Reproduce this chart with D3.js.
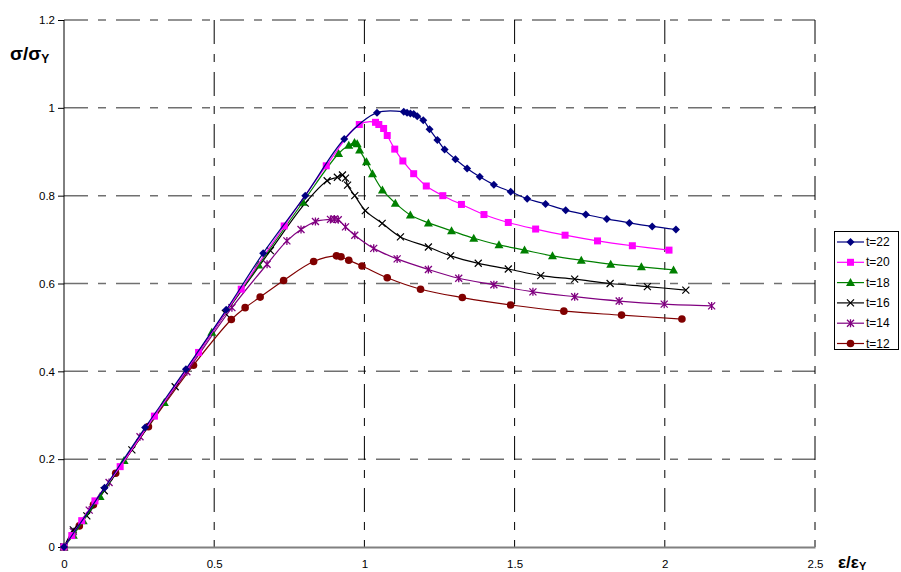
<!DOCTYPE html>
<html><head><meta charset="utf-8">
<script src="https://cdn.jsdelivr.net/npm/d3@7"></script>
<style>body{margin:0;background:#fff;} svg{display:block;font-family:"Liberation Sans",Arial,sans-serif;}</style>
</head><body><svg id="c" width="901" height="572"></svg>
<script>
const xTicks = [0, 0.5, 1, 1.5, 2, 2.5];
const yTicks = [0, 0.2, 0.4, 0.6, 0.8, 1, 1.2];
const seriesNames = ["t=22", "t=20", "t=18", "t=16", "t=14", "t=12"];
const seriesColors = ["#000080", "#FF00FF", "#008000", "#000000", "#800080", "#800000"];
const seriesMarkers = ["diamond", "square", "triangle", "x", "asterisk", "circle"];

const t22x = [0,0.135,0.27,0.406,0.54,0.663,0.803,0.933,1.042,1.131,1.142,1.153,1.164,1.176,1.196,1.217,1.243,1.267,1.303,1.342,1.384,1.431,1.487,1.542,1.603,1.67,1.737,1.807,1.882,1.958,2.037];
const t22y = [0,0.135,0.272,0.405,0.54,0.669,0.80,0.929,0.989,0.991,0.989,0.987,0.986,0.981,0.972,0.951,0.927,0.905,0.883,0.862,0.843,0.825,0.809,0.793,0.781,0.767,0.757,0.747,0.738,0.730,0.723];
const t20x = [0,0.026,0.059,0.103,0.187,0.301,0.448,0.59,0.733,0.873,0.983,1.037,1.048,1.064,1.076,1.101,1.128,1.164,1.206,1.261,1.323,1.398,1.479,1.57,1.668,1.776,1.892,2.014];
const t20y = [0,0.026,0.06,0.105,0.183,0.298,0.443,0.587,0.731,0.868,0.962,0.967,0.962,0.953,0.937,0.906,0.879,0.850,0.822,0.800,0.780,0.757,0.739,0.724,0.710,0.697,0.686,0.676];
const t18x = [0,0.031,0.064,0.12,0.2,0.334,0.492,0.648,0.795,0.914,0.948,0.967,0.976,0.984,1.007,1.027,1.06,1.103,1.153,1.213,1.29,1.364,1.448,1.533,1.626,1.722,1.82,1.922,2.029];
const t18y = [0,0.027,0.06,0.115,0.197,0.329,0.489,0.642,0.785,0.896,0.915,0.921,0.918,0.904,0.877,0.85,0.813,0.783,0.756,0.738,0.72,0.703,0.688,0.676,0.663,0.653,0.644,0.638,0.631];
const t16x = [0,0.031,0.076,0.134,0.226,0.37,0.537,0.687,0.803,0.876,0.91,0.927,0.937,0.944,0.968,1.003,1.059,1.12,1.213,1.287,1.379,1.479,1.587,1.70,1.818,1.942,2.07];
const t16y = [0,0.039,0.071,0.128,0.221,0.365,0.532,0.675,0.783,0.834,0.842,0.847,0.840,0.824,0.80,0.766,0.737,0.706,0.683,0.663,0.646,0.633,0.618,0.61,0.60,0.593,0.585];
const t14x = [0,0.031,0.084,0.15,0.253,0.409,0.559,0.676,0.742,0.789,0.837,0.887,0.9,0.913,0.937,0.968,1.031,1.109,1.213,1.314,1.431,1.561,1.70,1.848,1.998,2.156];
const t14y = [0,0.035,0.084,0.147,0.251,0.399,0.545,0.644,0.697,0.723,0.741,0.746,0.747,0.745,0.729,0.71,0.68,0.656,0.632,0.612,0.597,0.581,0.57,0.56,0.553,0.549];
const t12x = [0,0.051,0.098,0.172,0.281,0.431,0.557,0.603,0.653,0.731,0.831,0.907,0.922,0.948,0.992,1.076,1.187,1.326,1.487,1.664,1.856,2.057];
const t12y = [0,0.048,0.096,0.168,0.274,0.414,0.518,0.545,0.569,0.607,0.65,0.663,0.661,0.653,0.64,0.613,0.587,0.568,0.551,0.537,0.528,0.519];

const allX = [t22x, t20x, t18x, t16x, t14x, t12x];
const allY = [t22y, t20y, t18y, t16y, t14y, t12y];

const svg = d3.select("#c");
const pLeft = 64, pRight = 815, pTop = 20, pBottom = 547;
const x = d3.scaleLinear().domain([0, 2.5]).range([pLeft, pRight]);
const y = d3.scaleLinear().domain([0, 1.2]).range([pBottom, pTop]);

// grid
svg.append("g").selectAll("line").data(yTicks.filter(d => d > 0)).join("line")
  .attr("x1", pLeft).attr("x2", pRight).attr("y1", d => y(d)).attr("y2", d => y(d))
  .attr("stroke", "#707070").attr("stroke-width", 1.5).attr("stroke-dasharray", "24,10,8,10");
svg.append("g").selectAll("line").data(xTicks.filter(d => d > 0)).join("line")
  .attr("x1", d => x(d)).attr("x2", d => x(d)).attr("y1", pTop).attr("y2", pBottom)
  .attr("stroke", "#000").attr("stroke-width", 1).attr("stroke-dasharray", "24,10,8,10");

// axes
const yAxis = d3.axisLeft(y).tickValues(yTicks).tickSize(6).tickFormat(d => d === 0 ? "0" : d3.format("")(d));
const gy = svg.append("g").attr("transform", `translate(${pLeft},0)`).call(yAxis);
gy.select(".domain").attr("stroke", "#000").attr("d", `M0,${pTop}V${pBottom}`);
gy.selectAll(".tick line").attr("stroke", "#000");
gy.selectAll("text").attr("font-size", 11.5).attr("fill", "#000").attr("x", -9)
  .attr("font-family", "'Liberation Sans',Arial,sans-serif");

const xAxis = d3.axisBottom(x).tickValues(xTicks).tickSize(0).tickFormat(d => String(d));
const gx = svg.append("g").attr("transform", `translate(0,${pBottom})`).call(xAxis);
gx.select(".domain").attr("stroke", "#808080").attr("stroke-width", 2);
gx.selectAll("text").attr("font-size", 11.5).attr("fill", "#000").attr("dy", "1.6em")
  .attr("font-family", "'Liberation Sans',Arial,sans-serif");

// axis titles
const ty = svg.append("text").attr("x", 10).attr("y", 60).attr("font-size", 19).attr("font-weight", "bold");
ty.append("tspan").text("σ/σ");
ty.append("tspan").attr("font-size", 12).attr("dy", 3).text("Y");
const tx = svg.append("text").attr("x", 838).attr("y", 568).attr("font-size", 17).attr("font-weight", "bold");
tx.append("tspan").text("ε/ε");
tx.append("tspan").attr("font-size", 11).attr("dy", 2).text("Y");

function marker(g, type, color, cx, cy) {
  if (type === "diamond") {
    g.append("path").attr("d", `M${cx},${cy-4}L${cx+4},${cy}L${cx},${cy+4}L${cx-4},${cy}Z`).attr("fill", color);
  } else if (type === "square") {
    g.append("rect").attr("x", cx-3.5).attr("y", cy-3.5).attr("width", 7).attr("height", 7).attr("fill", color);
  } else if (type === "triangle") {
    g.append("path").attr("d", `M${cx},${cy-4.5}L${cx+4.5},${cy+3.5}L${cx-4.5},${cy+3.5}Z`).attr("fill", color);
  } else if (type === "x") {
    g.append("path").attr("d", `M${cx-3.5},${cy-3.5}L${cx+3.5},${cy+3.5}M${cx-3.5},${cy+3.5}L${cx+3.5},${cy-3.5}`).attr("stroke", color).attr("stroke-width", 1.2);
  } else if (type === "asterisk") {
    g.append("path").attr("d", `M${cx-3.5},${cy-3.5}L${cx+3.5},${cy+3.5}M${cx-3.5},${cy+3.5}L${cx+3.5},${cy-3.5}M${cx},${cy-4}V${cy+4}`).attr("stroke", color).attr("stroke-width", 1.3);
  } else {
    g.append("circle").attr("cx", cx).attr("cy", cy).attr("r", 3.8).attr("fill", color);
  }
}

const line = d3.line().x(d => x(d[0])).y(d => y(d[1])).curve(d3.curveCatmullRom.alpha(0.5));

for (let s = 5; s >= 0; s--) {
  const pts = allX[s].map((v, i) => [v, allY[s][i]]);
  const g = svg.append("g");
  g.append("path").attr("d", line(pts)).attr("fill", "none").attr("stroke", seriesColors[s]).attr("stroke-width", 1.2);
  pts.forEach(p => marker(g, seriesMarkers[s], seriesColors[s], x(p[0]), y(p[1])));
}

// legend
const lg = svg.append("g");
lg.append("rect").attr("x", 834.5).attr("y", 231.5).attr("width", 64).attr("height", 118).attr("fill", "#fff").attr("stroke", "#000");
seriesNames.forEach((n, i) => {
  const ly = 242 + i * 20.3;
  lg.append("line").attr("x1", 837).attr("x2", 864).attr("y1", ly).attr("y2", ly).attr("stroke", seriesColors[i]).attr("stroke-width", 1.2);
  marker(lg, seriesMarkers[i], seriesColors[i], 850.5, ly);
  lg.append("text").attr("x", 866).attr("y", ly + 4).attr("font-size", 12).text(n);
});
</script></body></html>
